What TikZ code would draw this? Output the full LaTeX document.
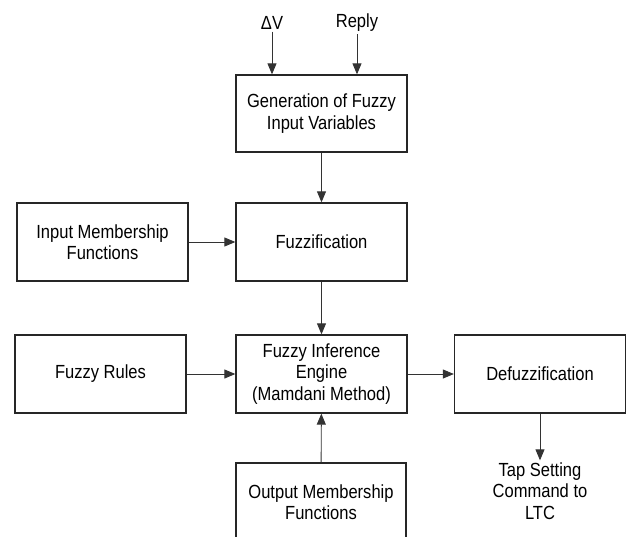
\documentclass[tikz,border=0pt]{standalone}
\usepackage{fontspec}
\setmainfont[FakeStretch=0.87]{Liberation Sans}
\usetikzlibrary{arrows.meta}
\begin{document}
\begin{tikzpicture}[x=1pt,y=-1pt,
  blk/.style={draw=black!85,line width=1.3pt,minimum width=171pt,minimum height=78pt,
    align=center,inner sep=0pt,font=\fontsize{19}{21.5}\selectfont},
  lbl/.style={align=center,inner sep=2pt,font=\fontsize{19}{21.5}\selectfont},
  arr/.style={draw=black!80,line width=0.9pt,-{Triangle[length=11pt,width=9pt]}}]
\useasboundingbox (0,0) rectangle (629,536);
\begin{scope}
\clip (0,0) rectangle (629,536);
\node[blk,minimum height=77pt] (gen) at (321.5,113.5) {Generation of Fuzzy\\Input Variables};
\node[blk] (inp) at (102.5,242) {Input Membership\\Functions};
\node[blk] (fuz) at (321.5,242) {Fuzzification};
\node[blk] (rul) at (100.5,374) {Fuzzy Rules};
\node[blk] (fie) at (321.5,374) {Fuzzy Inference\\Engine\\(Mamdani Method)};
\node[blk] (def) at (540,374) {Defuzzification};
\node[blk,minimum width=170pt] (out) at (321,502) {Output Membership\\Functions};
\node[lbl] (tap) at (540,491) {Tap Setting\\Command to\\LTC};
\node[lbl] (dv) at (272,23) {ΔV};
\node[lbl] (rep) at (357,23) {Reply};
\end{scope}
\draw[arr] (dv.south) -- (dv.south |- gen.north);
\draw[arr] (rep.south) -- (rep.south |- gen.north);
\draw[arr] (gen) -- (fuz);
\draw[arr] (inp) -- (fuz);
\draw[arr] (fuz) -- (fie);
\draw[arr] (rul) -- (fie);
\draw[arr] (fie) -- (def);
\draw[arr] (out) -- (fie);
\draw[arr] (def) -- (tap);
\end{tikzpicture}
\end{document}
